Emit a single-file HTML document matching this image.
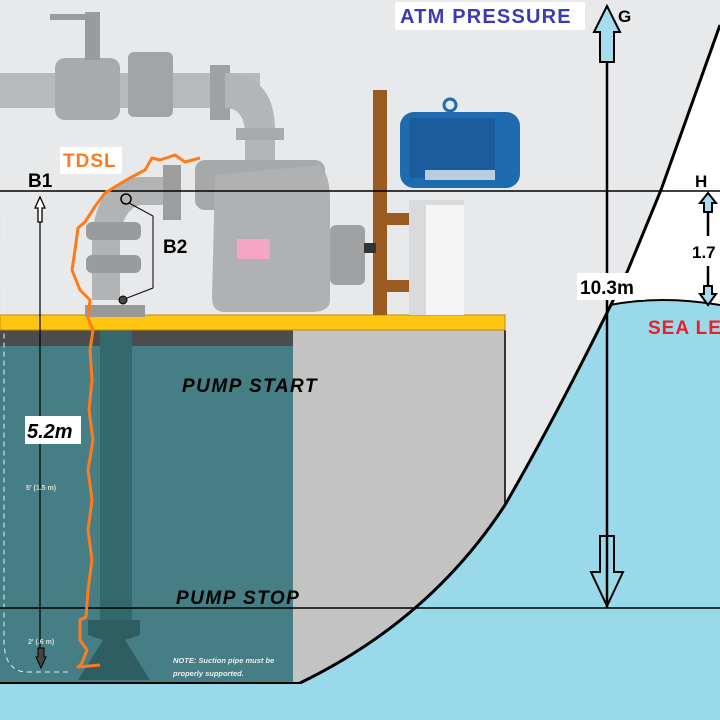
<!DOCTYPE html>
<html><head><style>
html,body{margin:0;padding:0;background:#e8e9eb}
svg{display:block}
text{font-family:"Liberation Sans",Arial,sans-serif;font-weight:bold}
</style></head><body>
<svg width="720" height="720" viewBox="0 0 720 720" xmlns="http://www.w3.org/2000/svg">
<rect width="720" height="720" fill="#e8e9eb"/>
<path d="M720,25 L661,190 L628,270 L610,305 L720,305 Z" fill="#ffffff"/>
<path d="M610,305 Q660,295 720,305 L720,720 L0,720 L0,683 L300,683 Q430,620 505,505 Q560,410 610,305 Z" fill="#9ad9e9"/>
<path d="M610,305 Q660,295 720,305" fill="none" stroke="#000" stroke-width="2"/>
<path d="M293,330 L505,330 L505,505 Q430,620 300,683 L293,683 Z" fill="#c3c3c3"/>
<line x1="505" y1="330" x2="505" y2="505" stroke="#000" stroke-width="1.5"/>
<rect x="0" y="330" width="293" height="16" fill="#4a4d4e"/>
<rect x="0" y="346" width="293" height="337" fill="#457f85"/>
<rect x="100" y="330" width="32" height="290" fill="#33686c"/>
<path d="M88,620 L140,620 L140,635 L125,640 L150,680 L78,680 L103,640 L88,635 Z" fill="#2f5e62"/>
<path d="M8,200 Q4,200 4,215 L4,640 Q4,670 25,672 L68,672" fill="none" stroke="#eee" stroke-width="1" stroke-dasharray="5,4"/>
<line x1="0" y1="683" x2="300" y2="683" stroke="#000" stroke-width="2"/>
<path d="M720,25 L661,190 L628,270 Q560,410 505,505 Q430,620 300,683" fill="none" stroke="#000" stroke-width="3"/>
<rect x="0" y="315" width="505" height="15" fill="#ffc511" stroke="#c48a00" stroke-width="1"/>
<rect x="0" y="73" width="260" height="35" fill="#b8b9ba"/>
<rect x="55" y="58" width="65" height="62" rx="10" fill="#a9aaab"/>
<rect x="128" y="52" width="45" height="65" rx="6" fill="#a3a4a5"/>
<rect x="85" y="12" width="15" height="48" fill="#9a9b9c"/>
<rect x="50" y="14" width="50" height="6" fill="#9a9b9c"/>
<rect x="210" y="65" width="20" height="55" fill="#a0a1a2"/>
<path d="M225,73 Q275,75 275,130 L275,190 L245,190 L245,135 Q245,108 225,108 Z" fill="#b4b5b6"/>
<rect x="236" y="128" width="48" height="12" fill="#a9aaab"/>
<rect x="195" y="160" width="130" height="50" rx="10" fill="#a7a8a9"/>
<path d="M215,175 L320,165 Q330,175 330,200 L330,300 Q330,312 310,312 L225,312 Q212,312 212,298 Z" fill="#b0b1b2"/>
<path d="M165,177 L165,205 L140,205 Q122,210 120,240 L120,300 L92,300 L92,240 Q95,180 140,177 Z" fill="#b2b3b4"/>
<rect x="163" y="165" width="18" height="55" fill="#9c9d9e"/>
<rect x="86" y="222" width="55" height="18" rx="6" fill="#9a9b9c"/>
<rect x="86" y="255" width="55" height="18" rx="6" fill="#9a9b9c"/>
<rect x="85" y="305" width="60" height="12" fill="#999"/>
<rect x="330" y="225" width="35" height="60" rx="6" fill="#a0a1a2"/>
<rect x="237" y="239" width="33" height="20" fill="#f5a6c3"/>
<circle cx="126" cy="199" r="5" fill="none" stroke="#000" stroke-width="1.5"/>
<circle cx="123" cy="300" r="4" fill="#444" stroke="#000" stroke-width="1"/>
<path d="M129,203 L153,216 L153,288 L127,298" fill="none" stroke="#000" stroke-width="1"/>
<rect x="373" y="90" width="14" height="225" fill="#9a5b23"/>
<rect x="387" y="213" width="24" height="12" fill="#9a5b23"/>
<rect x="387" y="280" width="24" height="12" fill="#9a5b23"/>
<rect x="409" y="200" width="55" height="115" fill="#d9dadb"/>
<rect x="426" y="205" width="38" height="110" fill="#f5f5f5"/>
<rect x="364" y="243" width="12" height="10" fill="#333"/>
<rect x="400" y="112" width="120" height="76" rx="14" fill="#1f6bb0"/>
<rect x="410" y="118" width="85" height="60" fill="#1a5c9e"/>
<circle cx="450" cy="105" r="6" fill="none" stroke="#1f6bb0" stroke-width="3"/>
<rect x="425" y="170" width="70" height="10" fill="#b7cde0"/>
<line x1="0" y1="191" x2="720" y2="191" stroke="#000" stroke-width="1.5"/>
<line x1="0" y1="608" x2="720" y2="608" stroke="#000" stroke-width="1.5"/>
<line x1="40" y1="197" x2="40" y2="665" stroke="#000" stroke-width="1.2"/>
<path d="M40,197 L45,208 L42,208 L42,222 L38,222 L38,208 L35,208 Z" fill="#fff" stroke="#000" stroke-width="1.3"/>
<path d="M41,668 L46,657 L44,657 L44,648 L38,648 L38,657 L36,657 Z" fill="#444" stroke="#000" stroke-width="1"/>
<line x1="607" y1="6" x2="607" y2="608" stroke="#000" stroke-width="2.5"/>
<path d="M607,6 L620,32 L614,32 L614,62 L600,62 L600,32 L594,32 Z" fill="#a7dcef" stroke="#000" stroke-width="2"/>
<path d="M607,606 L623,572 L614,572 L614,536 L600,536 L600,572 L591,572 Z" fill="none" stroke="#000" stroke-width="2"/>
<line x1="708" y1="196" x2="708" y2="300" stroke="#000" stroke-width="2.5"/>
<path d="M708,193 L716,203 L712,203 L712,212 L704,212 L704,203 L700,203 Z" fill="#a7dcef" stroke="#000" stroke-width="2"/>
<path d="M708,305 L716,294 L712,294 L712,286 L704,286 L704,294 L700,294 Z" fill="#a7dcef" stroke="#000" stroke-width="2"/>
<rect x="690" y="236" width="30" height="30" fill="#fff"/>
<path d="M200,158 L185,162 L175,155 L160,160 L152,158 L145,170 L130,178 L118,185 L105,193 L96,205 L85,222 L78,228 L75,250 L72,270 L80,290 L90,300 L88,318 L93,330 L90,350 L92,380 L89,410 L93,440 L88,470 L92,500 L88,530 L92,560 L88,590 L86,617 L80,620 L80,640 L87,650 L82,663 L78,667 L100,665" fill="none" stroke="#ff7a1a" stroke-width="3" stroke-linejoin="round"/>
<rect x="395" y="2" width="190" height="28" fill="#fff"/>
<text x="400" y="23" font-size="20" letter-spacing="1.2" fill="#3a3ab8">ATM PRESSURE</text>
<text x="618" y="22" font-size="17" fill="#000">G</text>
<rect x="60" y="147" width="62" height="27" fill="#fff"/>
<text x="63" y="167" font-size="19" letter-spacing="1" fill="#ff7a1a">TDSL</text>
<text x="28" y="187" font-size="19" fill="#000">B1</text>
<text x="163" y="253" font-size="19" fill="#000">B2</text>
<text x="695" y="187" font-size="17" fill="#000">H</text>
<text x="692" y="258" font-size="17" fill="#000">1.7</text>
<rect x="577" y="273" width="68" height="27" fill="#fff"/>
<text x="580" y="294" font-size="19" fill="#000">10.3m</text>
<text x="648" y="334" font-size="19" letter-spacing="1" fill="#e8202a">SEA LE</text>
<text x="182" y="392" font-size="19" font-style="italic" letter-spacing="1.5" fill="#000">PUMP START</text>
<text x="176" y="604" font-size="19" font-style="italic" letter-spacing="1.5" fill="#000">PUMP STOP</text>
<rect x="25" y="416" width="56" height="28" fill="#fff"/>
<text x="27" y="438" font-size="20" font-style="italic" fill="#000">5.2m</text>
<text x="26" y="490" font-size="7" font-weight="normal" fill="#ddd">5' (1.5 m)</text>
<text x="28" y="644" font-size="7" font-weight="normal" fill="#ddd">2' (.6 m)</text>
<text x="173" y="663" font-size="7.5" font-style="italic" fill="#eee">NOTE: Suction pipe must be</text>
<text x="173" y="676" font-size="7.5" font-style="italic" fill="#eee">properly supported.</text>
</svg>
</body></html>
